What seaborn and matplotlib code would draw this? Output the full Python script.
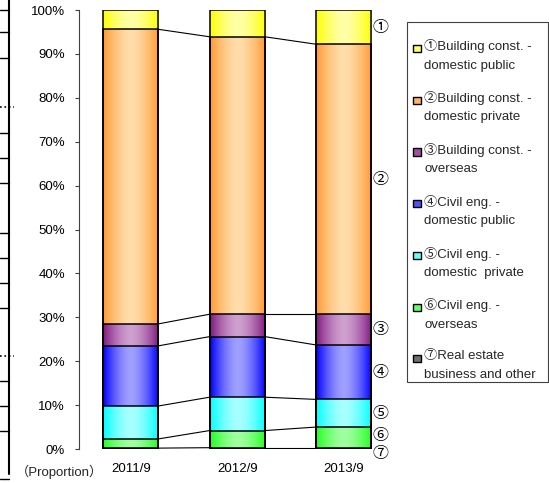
import matplotlib
matplotlib.use('Agg')
import matplotlib.pyplot as plt
import numpy as np
import pandas as pd
import seaborn as sns
from matplotlib.colors import to_rgb
from matplotlib.legend_handler import HandlerPatch
from matplotlib.lines import Line2D
from matplotlib.patches import Patch, Rectangle


# data (share of orders, %)
periods = ['2011/9', '2012/9', '2013/9']
marks = ['①', '②', '③', '④', '⑤', '⑥', '⑦']
names = ['Building const. -\ndomestic public',
         'Building const. -\ndomestic private',
         'Building const. -\noverseas',
         'Civil eng. -\ndomestic public',
         'Civil eng. -\ndomestic  private',
         'Civil eng. -\noverseas',
         'Real estate\nbusiness and other']
bldg_public = [4.4, 6.1, 7.8]
bldg_private = [67.1, 63.2, 61.5]
bldg_overseas = [5.0, 5.1, 7.0]
civil_public = [13.7, 13.8, 12.4]
civil_private = [7.5, 7.6, 6.3]
civil_overseas = [2.1, 3.9, 4.7]
real_estate = [0.2, 0.3, 0.3]

series = [bldg_public, bldg_private, bldg_overseas, civil_public,
          civil_private, civil_overseas, real_estate]

# edge (saturated) and centre (light) colour of each gradient fill
edge_colors = ['#FFFF00', '#FF9933', '#801A80', '#0000FF', '#00FFFF', '#22FF22', '#404040']
light_colors = ['#FFFFA8', '#FFDDAA', '#CFA0D0', '#A0A0FF', '#A8FFFF', '#A0FFA0', '#B0B0B0']
legend_colors = ['#FFFF66', '#FFB366', '#A050A0', '#5050FF', '#66FFFF', '#66FF66', '#707070']

sns.set_style('ticks')
plt.rcParams['font.family'] = ['Liberation Sans', 'Noto Sans CJK JP', 'DejaVu Sans']

df = pd.DataFrame({'period': periods})
stack = list(range(len(series)))[::-1]  # bottom (⑦) to top (①)
running = np.zeros(len(periods))
bottoms, tops = {}, {}
for k in stack:
    bottoms[k] = running.copy()
    running = running + np.array(series[k])
    tops[k] = running.copy()
    df['cum%d' % k] = running

fig = plt.figure(figsize=(5.49, 4.83), dpi=100)
ax = fig.add_axes([79 / 549, 34 / 483, 318 / 549, 439 / 483])

bar_w = 0.52
# stacked bars: draw cumulative totals from the top segment down
for k in stack[::-1]:
    sns.barplot(data=df, x='period', y='cum%d' % k, color=edge_colors[k],
                width=bar_w, edgecolor='black', linewidth=1.1, saturation=1,
                errorbar=None, ax=ax)

bar_x = [p.get_x() for p in ax.patches[:len(periods)]]
for p in ax.patches:
    p.set_facecolor('none')
    p.set_zorder(3)

# horizontal gradient fill inside each segment
t = np.linspace(0, 1, 80)
f = 1 - np.abs(2 * t - 1) ** 1.6
for k in stack:
    e = np.array(to_rgb(edge_colors[k]))
    l = np.array(to_rgb(light_colors[k]))
    grad = (e[None, :] * (1 - f[:, None]) + l[None, :] * f[:, None])[None, :, :]
    for i, x0 in enumerate(bar_x):
        ax.imshow(grad, extent=(x0, x0 + bar_w, bottoms[k][i], tops[k][i]),
                  aspect='auto', interpolation='bilinear', zorder=2)

# connector lines between neighbouring bars
for k in stack[:-1]:
    for i in range(len(periods) - 1):
        ax.plot([bar_x[i] + bar_w, bar_x[i + 1]], [tops[k][i], tops[k][i + 1]],
                color='black', lw=0.8, zorder=3)

# circled labels next to the last bar
last = len(periods) - 1
nudge = {5: 1.5, 6: -4}
for k in stack:
    mid = (bottoms[k][last] + tops[k][last]) / 2
    ax.annotate(marks[k], (bar_x[last] + bar_w, mid), xytext=(0.5, nudge.get(k, 0)),
                textcoords='offset points', ha='left', va='center',
                fontsize=11.5, color='black',
                family=['Noto Sans CJK JP', 'DejaVu Sans'])

ax.set_xlim(-0.486, 2.5)
ax.set_ylim(0, 100)
ax.set_yticks(range(0, 101, 10))
ax.set_yticklabels(['%d%%' % v for v in range(0, 101, 10)])
ax.set_xlabel('')
ax.set_ylabel('')
sns.despine(ax=ax, bottom=True)
ax.spines['left'].set_color('#404040')
ax.spines['left'].set_linewidth(0.8)
ax.tick_params(axis='x', length=0, pad=10, labelsize=9.5, colors='black')
ax.tick_params(axis='y', length=3, width=0.8, color='#404040', pad=7,
               labelsize=9.5, labelcolor='black')

fig.text(103 / 549, 1 - 472 / 483, '（Proportion）', ha='right', va='center',
         fontsize=9.5)


# small square key sitting level with the first line of a two-line label
def top_square(legend, orig_handle, xdescent, ydescent, width, height, fontsize):
    return Rectangle((-xdescent, -ydescent + height - width), width, width)


handles = [Patch(facecolor=legend_colors[k], edgecolor='black', linewidth=1)
           for k in range(len(series))]
labels = [marks[k] + names[k] for k in range(len(series))]
leg = fig.legend(handles, labels, loc='upper left',
                 bbox_to_anchor=(408 / 549, 1 - 34 / 483), frameon=False,
                 fontsize=9.5, handlelength=0.55, handleheight=2.2,
                 handletextpad=0.3, labelspacing=1.48, borderpad=0.4,
                 borderaxespad=0,
                 handler_map={Patch: HandlerPatch(patch_func=top_square)})
for txt in leg.get_texts():
    txt.set_linespacing(1.7)
fig.add_artist(Rectangle((407 / 549, 1 - 382 / 483), 141 / 549, 360 / 483,
                         transform=fig.transFigure, fill=False,
                         edgecolor='#404040', lw=0.8))

# clipped border of a neighbouring table at the far left
fig.add_artist(Line2D([9 / 549, 9 / 549], [1, 1 - 474 / 483],
                      transform=fig.transFigure, color='black', lw=1.5))
for yy in [10, 32, 58, 133, 158, 183, 233, 258, 283, 308, 381, 406, 431, 479]:
    fig.add_artist(Line2D([0, 9 / 549], [1 - yy / 483] * 2,
                          transform=fig.transFigure, color='black', lw=1.0))
for yy in [107, 356]:
    fig.add_artist(Line2D([0, 14 / 549], [1 - yy / 483] * 2,
                          transform=fig.transFigure, color='black', lw=1.2,
                          linestyle=':'))

fig.savefig('out.png', dpi=100)
